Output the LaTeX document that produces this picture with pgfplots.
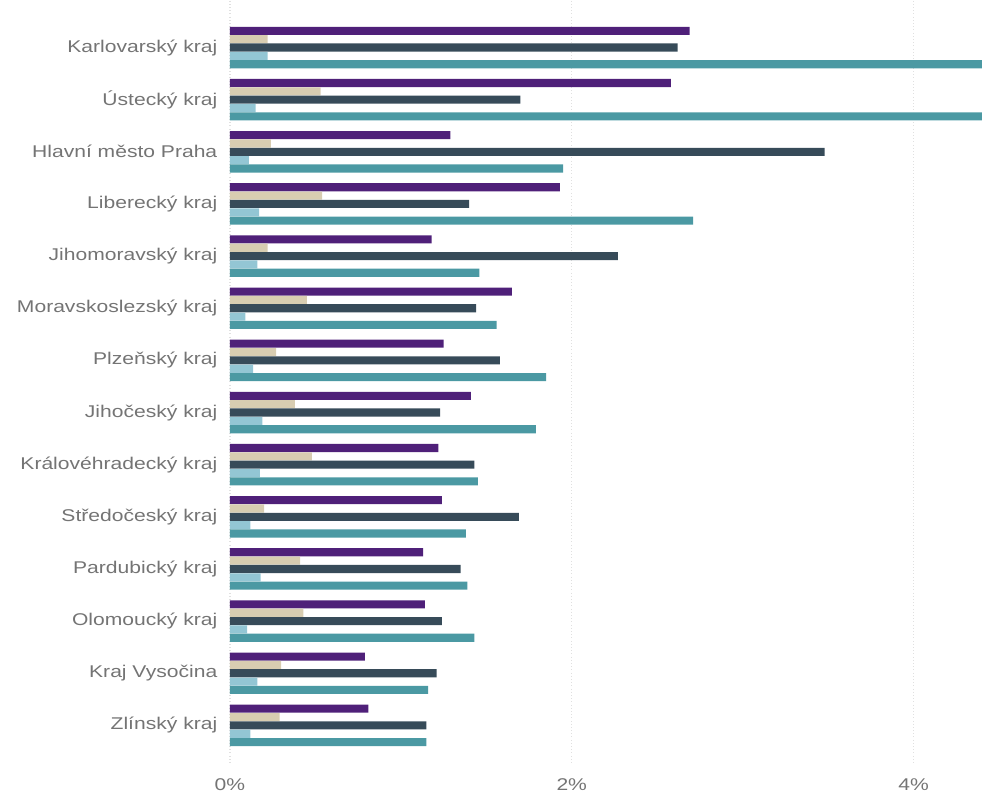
\documentclass[border=0pt]{standalone}
\usepackage{fontspec}
\setmainfont{Liberation Sans}[FakeStretch=1.24]
\usepackage{pgfplots}
\pgfplotsset{compat=1.18}
\definecolor{cPurple}{HTML}{4F2079}
\definecolor{cBeige}{HTML}{D8CDB1}
\definecolor{cDark}{HTML}{374B59}
\definecolor{cLight}{HTML}{93C6D4}
\definecolor{cTeal}{HTML}{4B99A3}
\definecolor{labelgray}{HTML}{747474}
\begin{document}
\begin{tikzpicture}
\begin{axis}[
  scale only axis,
  width=564pt, height=573pt,
  xbar, bar width=0.155,
  xmin=0, xmax=4.4,
  ymin=-0.9, ymax=13.75,
  y dir=reverse,
  axis line style={draw=none},
  major tick length=0,
  xtick={0,2,4},
  xticklabels={0\%,2\%,4\%},
  ytick={0,...,13},
  yticklabels={Karlovarský kraj,Ústecký kraj,Hlavní město Praha,Liberecký kraj,Jihomoravský kraj,Moravskoslezský kraj,Plzeňský kraj,Jihočeský kraj,Královéhradecký kraj,Středočeský kraj,Pardubický kraj,Olomoucký kraj,Kraj Vysočina,Zlínský kraj},
  xmajorgrids,
  grid style={dotted, draw=black!12, line width=0.9pt},
  ticklabel style={font=\fontsize{12.75}{15}\selectfont, text=labelgray},
  xticklabel style={yshift=-7pt},
  yticklabel style={xshift=-6pt},
  /pgf/number format/assume math mode=true,
]
\addplot[draw=none, fill=cPurple, bar shift=-0.32] coordinates {
  (2.69,0) (2.58,1) (1.29,2) (1.93,3) (1.18,4) (1.65,5) (1.25,6)
  (1.41,7) (1.22,8) (1.24,9) (1.13,10) (1.14,11) (0.79,12) (0.81,13)};
\addplot[draw=none, fill=cBeige, bar shift=-0.16] coordinates {
  (0.22,0) (0.53,1) (0.24,2) (0.54,3) (0.22,4) (0.45,5) (0.27,6)
  (0.38,7) (0.48,8) (0.20,9) (0.41,10) (0.43,11) (0.30,12) (0.29,13)};
\addplot[draw=none, fill=cDark, bar shift=0] coordinates {
  (2.62,0) (1.70,1) (3.48,2) (1.40,3) (2.27,4) (1.44,5) (1.58,6)
  (1.23,7) (1.43,8) (1.69,9) (1.35,10) (1.24,11) (1.21,12) (1.15,13)};
\addplot[draw=none, fill=cLight, bar shift=0.16] coordinates {
  (0.22,0) (0.15,1) (0.11,2) (0.17,3) (0.16,4) (0.09,5) (0.135,6)
  (0.19,7) (0.175,8) (0.12,9) (0.18,10) (0.10,11) (0.16,12) (0.12,13)};
\addplot[draw=none, fill=cTeal, bar shift=0.32] coordinates {
  (4.60,0) (4.55,1) (1.95,2) (2.71,3) (1.46,4) (1.56,5) (1.85,6)
  (1.79,7) (1.45,8) (1.38,9) (1.39,10) (1.43,11) (1.16,12) (1.15,13)};
\end{axis}
\path (current axis.north east) coordinate (ne);
\path[use as bounding box] (current axis.south west) ++(-172.5pt,-21.75pt) rectangle (ne);
\end{tikzpicture}
\end{document}
